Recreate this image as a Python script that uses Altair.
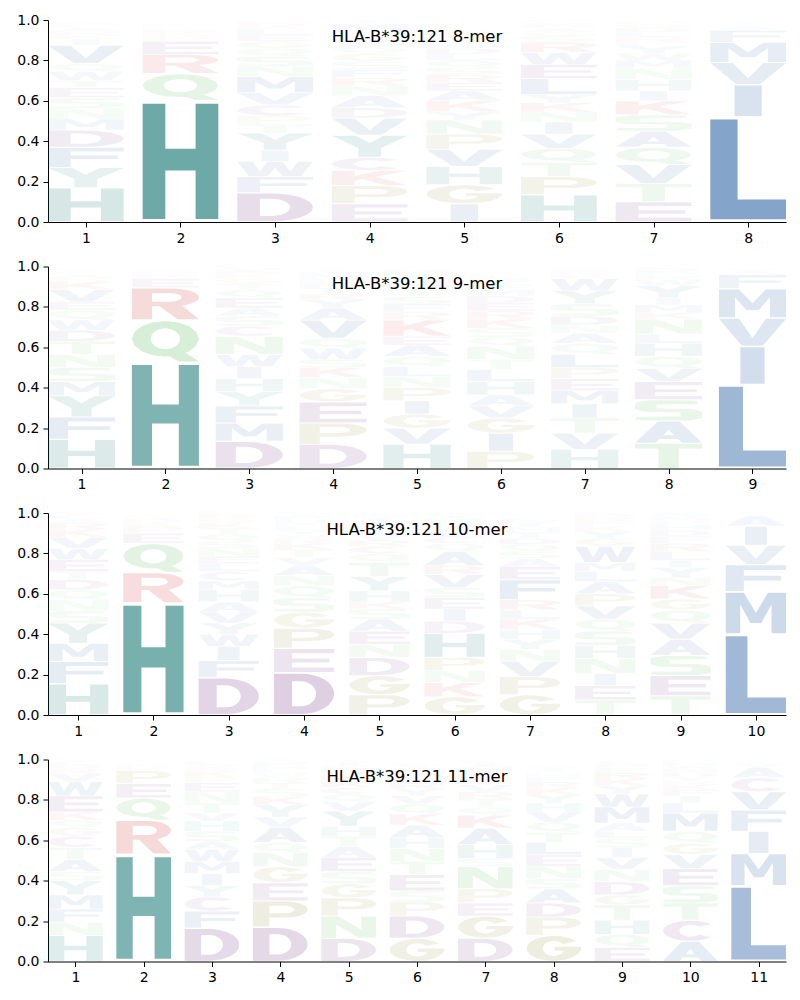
import math
import altair as alt
import pandas as pd

# ---------------- data: per position, letters from bottom to top with heights ----------------
MER8 = [
    "H .17 Y .10 F .10 D .085 M .055 N .055 S .05 E .05 T .035 W .045 Q .04 V .09 I .03 K .02 R .02 A .015 L .01 P .01 G .01 C .005",
    "H .60 Q .135 R .095 E .065 P .025 K .02 D .015 S .01 T .008 N .007 A .005 G .005 M .005 V .005",
    "D .145 F .08 W .075 I .055 Y .085 T .045 P .04 C .055 V .06 M .08 N .05 S .05 Q .04 G .035 E .03 L .03 K .02 R .015 H .005 A .005",
    "E .09 P .09 K .075 C .065 Y .11 V .085 D .05 A .06 N .05 R .04 F .04 S .04 G .04 Q .03 W .03 L .03 H .015 M .04 T .01 I .01",
    "I .09 G .095 H .09 V .085 P .075 N .07 Y .04 K .055 A .05 E .04 R .04 S .035 Q .035 L .03 D .03 F .025 T .025 M .02 W .015 C .01",
    "H .135 P .09 T .07 Q .07 V .07 I .06 N .05 K .045 Y .04 L .08 E .07 W .06 R .05 S .03 G .02 A .02 D .015 M .01 C .005 F .01",
    "E .10 T .09 V .095 Q .085 A .08 S .08 K .07 I .05 H .055 N .055 M .04 W .035 Y .035 F .02 R .025 L .025 D .02 G .02 P .015 C .005",
    "L .52 I .16 V .11 M .10 F .06 A .015 Y .01 W .008 T .007 C .005",
]
MER9 = [
    "H .145 F .11 Y .105 M .07 S .07 N .065 T .065 D .055 W .05 Q .05 E .04 V .06 K .04 R .02 A .015 L .01 I .01 G .01 P .005 C .005",
    "H .525 Q .21 R .16 E .045 P .015 K .01 D .01 S .008 N .007 T .005 G .005",
    "D .135 M .09 F .085 Y .07 H .065 I .06 W .06 N .09 C .05 S .05 A .04 E .05 Q .04 T .03 G .025 K .02 R .015 V .015 L .01 P .01",
    "D .12 P .105 E .105 G .065 N .055 K .05 S .04 W .055 Q .05 V .09 A .06 Y .04 R .03 T .03 F .025 L .02 M .02 H .015 I .01 C .01",
    "H .12 V .08 G .07 I .065 P .065 N .055 L .05 Q .05 A .055 E .045 K .08 R .04 F .04 S .035 T .035 D .03 W .025 Y .02 M .025 C .01",
    "P .085 I .09 G .075 V .06 A .055 H .065 L .06 T .05 N .065 Q .045 S .045 K .045 R .04 E .04 D .035 M .03 F .025 Y .02 W .015 C .01",
    "H .095 V .08 T .075 I .07 M .065 E .06 P .055 L .065 Q .055 A .05 N .04 D .045 S .06 Y .065 W .06 K .02 R .015 G .015 F .01 C .005",
    "T .125 A .11 S .105 E .09 V .065 Q .06 H .065 L .045 N .075 K .03 M .04 I .035 Y .06 W .03 R .02 F .02 D .015 G .01 P .01 C .005",
    "L .415 I .19 V .14 M .145 F .07 A .015 Y .01 W .008 T .005 C .002",
]
MER10 = [
    "H .155 F .11 M .09 Y .10 S .06 N .055 Q .05 D .05 T .04 E .06 W .055 V .055 K .04 R .03 A .02 L .015 I .01 G .01 P .005 C .005",
    "H .555 R .15 Q .145 E .05 P .035 K .02 D .015 S .01 N .008 T .007 G .005",
    "D .185 F .085 I .07 W .06 Y .055 V .055 A .05 H .06 M .045 C .045 L .04 E .035 N .04 S .035 Q .035 T .03 K .025 G .025 R .02 P .015",
    "D .21 E .12 P .10 G .08 S .07 Q .06 N .05 A .05 V .04 T .04 K .03 R .025 W .02 Y .02 L .02 M .02 H .015 F .015 I .01 C .01",
    "P .10 G .095 D .09 N .065 E .065 A .06 S .05 K .035 H .055 Y .07 T .07 Q .045 C .035 R .03 V .03 L .025 F .02 M .02 I .015 W .01",
    "G .09 K .07 N .06 P .065 H .12 D .06 I .06 E .055 S .05 V .065 R .045 A .07 Q .04 C .03 L .03 T .025 F .02 M .02 Y .015 W .01",
    "G .10 P .09 V .075 N .06 Y .05 H .05 K .05 L .045 R .05 F .10 E .065 A .04 S .035 Q .035 D .03 T .03 M .025 I .02 W .015 C .01",
    "T .075 E .07 I .06 N .075 H .065 S .07 Q .06 V .065 P .06 A .06 L .05 M .045 W .08 G .04 Y .035 K .025 F .025 R .02 D .015 C .01",
    "T .095 E .10 S .10 A .08 V .08 Q .065 G .055 K .065 N .04 Y .05 I .035 L .045 R .04 F .035 D .03 H .025 P .02 M .02 W .015 C .01",
    "L .40 M .21 F .135 V .095 I .095 A .05 Y .008 W .005 T .002",
]
MER11 = [
    "H .13 N .065 F .065 M .07 Y .07 S .045 A .06 T .06 C .055 G .045 Q .035 K .04 E .08 W .07 V .04 R .025 D .02 L .015 I .01 P .01",
    "H .53 R .17 Q .11 E .07 P .065 K .015 D .01 S .01 N .008 T .007 G .005",
    "D .165 F .085 C .07 Y .055 I .06 M .06 W .06 A .04 S .05 H .05 V .04 T .05 N .055 E .045 P .03 K .025 R .02 G .015 L .015 Q .01",
    "D .17 P .13 E .09 G .08 N .07 Q .05 A .075 V .05 Y .06 K .04 S .04 T .03 R .025 W .02 L .02 M .015 F .015 H .01 I .01 C .01",
    "D .115 N .11 P .09 G .07 S .06 E .07 A .055 T .05 H .05 Y .075 V .045 Q .04 C .03 K .03 R .025 L .02 M .02 F .015 I .015 W .01",
    "G .115 D .11 P .07 S .055 E .08 T .065 N .065 H .055 A .06 K .055 Q .05 V .04 Y .035 R .03 L .025 F .02 M .02 I .015 W .01 C .01",
    "D .115 G .11 E .065 P .07 N .11 S .04 H .07 A .08 K .065 Q .04 T .04 R .035 V .035 Y .03 L .025 F .02 M .015 I .015 W .01 C .01",
    "G .13 P .09 D .07 A .07 S .05 N .06 E .06 L .06 T .05 Q .05 V .05 H .045 Y .04 K .035 R .03 F .025 M .02 I .02 W .01 C .01",
    "E .07 Q .065 H .07 T .075 G .05 D .065 N .06 V .06 I .05 S .045 L .035 A .04 M .08 W .065 Y .04 K .035 R .03 F .025 P .02 C .015",
    "A .10 C .105 T .085 S .085 E .085 V .07 G .055 Q .06 M .09 L .05 I .035 F .03 K .025 R .02 Y .02 D .02 N .02 W .015 H .015 P .015",
    "L .375 M .16 I .11 F .105 V .09 C .07 A .05 Y .015 W .01 T .008 S .007",
]
PANELS = [("HLA-B*39:121 8-mer", MER8), ("HLA-B*39:121 9-mer", MER9),
          ("HLA-B*39:121 10-mer", MER10), ("HLA-B*39:121 11-mer", MER11)]

COLORS = {}
for g, c in [("HY", "#0b716c"), ("AVLIMFW", "#155199"), ("STNQ", "#41ae41"),
             ("DE", "#621f75"), ("C", "#7a2a8a"), ("KR", "#c81e1e"), ("PG", "#7a7a10")]:
    for ch in g:
        COLORS[ch] = c

# ---------------- style ----------------
PLOT_W, PLOT_H = 738, 202
GLYPH_W = 0.8
VPAD = 0.05
FONT = "DejaVu Sans"


def ell(cx, cy, rx, ry, a0, a1, n=16):
    return [(cx + rx * math.cos(math.radians(a0 + (a1 - a0) * i / n)),
             cy + ry * math.sin(math.radians(a0 + (a1 - a0) * i / n))) for i in range(n + 1)]


GLYPHS = {
    "A": ([[(0, 0), (.3, 0), (.36, .18), (.64, .18), (.7, 0), (1, 0), (.66, 1), (.34, 1)]],
          [[(.42, .35), (.58, .35), (.5, .64)]]),
    "C": ([ell(.5, .5, .5, .5, 40, 320) + ell(.5, .5, .2, .3, 320, 40)], []),
    "D": ([[(0, 0)] + ell(.45, .5, .55, .5, -90, 90) + [(0, 1)]],
          [[(.3, .19)] + ell(.45, .5, .25, .31, -90, 90) + [(.3, .81)]]),
    "E": ([[(0, 0), (1, 0), (1, .19), (.3, .19), (.3, .41), (.92, .41), (.92, .59), (.3, .59),
            (.3, .81), (1, .81), (1, 1), (0, 1)]], []),
    "F": ([[(0, 0), (.3, 0), (.3, .41), (.92, .41), (.92, .59), (.3, .59), (.3, .81), (1, .81),
            (1, 1), (0, 1)]], []),
    "G": ([ell(.5, .5, .5, .5, 35, 350) + [(1, .41), (1, .56), (.52, .56), (.52, .41)]
           + ell(.5, .5, .2, .3, 340, 35)], []),
    "H": ([[(0, 0), (.3, 0), (.3, .42), (.7, .42), (.7, 0), (1, 0), (1, 1), (.7, 1), (.7, .61),
            (.3, .61), (.3, 1), (0, 1)]], []),
    "I": ([[(.32, 0), (.68, 0), (.68, 1), (.32, 1)]], []),
    "K": ([[(0, 0), (.3, 0), (.3, .33), (.4, .44), (.72, 0), (1, 0), (.58, .6), (.98, 1), (.64, 1),
            (.3, .64), (.3, 1), (0, 1)]], []),
    "L": ([[(0, 0), (1, 0), (1, .2), (.36, .2), (.36, 1), (0, 1)]], []),
    "M": ([[(0, 0), (.24, 0), (.24, .72), (.41, .25), (.59, .25), (.76, .72), (.76, 0), (1, 0),
            (1, 1), (.7, 1), (.5, .5), (.3, 1), (0, 1)]], []),
    "N": ([[(0, 0), (.27, 0), (.27, .62), (.68, 0), (1, 0), (1, 1), (.73, 1), (.73, .38), (.32, 1),
            (0, 1)]], []),
    "P": ([[(0, 0), (.3, 0), (.3, .36)] + ell(.6, .68, .4, .32, -90, 90) + [(0, 1)]],
          [[(.3, .53)] + ell(.57, .68, .18, .15, -90, 90) + [(.3, .83)]]),
    "Q": ([ell(.5, .56, .5, .44, 0, 360)[:-1], [(.48, .2), (.7, 0), (1, 0), (.76, .26)]],
          [ell(.5, .56, .22, .26, 0, 360)[:-1]]),
    "R": ([[(0, 0), (.3, 0), (.3, .42)] + ell(.58, .71, .42, .29, -90, 90) + [(0, 1)],
           [(.4, .45), (.68, 0), (1, 0), (.72, .5)]],
          [[(.3, .57)] + ell(.56, .71, .18, .14, -90, 90) + [(.3, .85)]]),
    "S": ([[(0, .03), (.2, 0), (.8, 0), (1, .12), (1, .45), (.85, .57), (.32, .6), (.32, .8),
            (.93, .82), (.93, .97), (.75, 1), (.2, 1), (0, .88), (0, .55), (.15, .43), (.68, .4),
            (.68, .2), (.03, .18)]], []),
    "T": ([[(0, 1), (0, .81), (.35, .81), (.35, 0), (.65, 0), (.65, .81), (1, .81), (1, 1)]], []),
    "V": ([[(0, 1), (.3, 1), (.5, .28), (.7, 1), (1, 1), (.66, 0), (.34, 0)]], []),
    "W": ([[(0, 1), (.2, 1), (.3, .32), (.4, 1), (.6, 1), (.7, .32), (.8, 1), (1, 1), (.84, 0),
            (.6, 0), (.5, .6), (.4, 0), (.16, 0)]], []),
    "Y": ([[(0, 1), (.32, 1), (.5, .64), (.68, 1), (1, 1), (.65, .42), (.65, 0), (.35, 0),
            (.35, .42)]], []),
}


def area(poly):
    return sum(poly[i][0] * poly[(i + 1) % len(poly)][1] - poly[(i + 1) % len(poly)][0] * poly[i][1]
               for i in range(len(poly))) / 2


def glyph_path(letter, aspect):
    outers, holes = GLYPHS[letter]
    parts = []
    for poly, sign in [(p, 1) for p in outers] + [(p, -1) for p in holes]:
        if sign * area(poly) < 0:
            poly = poly[::-1]
        pts = [(2 * x - 1, -(y - 0.5) * 2 * aspect) for x, y in poly]
        parts.append("M " + " L ".join(f"{x:.3f} {y:.3f}" for x, y in pts) + " Z")
    return " ".join(parts)


def panel(title, columns):
    n = len(columns)
    glyph_px = GLYPH_W * PLOT_W / (n - 0.2)
    rows = []
    for pos, col in enumerate(columns, start=1):
        toks = col.split()
        y0 = 0.0
        for letter, h in zip(toks[0::2], toks[1::2]):
            h = float(h)
            hpx = h * (1 - VPAD) * PLOT_H
            rows.append({"pos": pos, "letter": letter, "yc": y0 + h / 2, "alpha": min(1.0, h),
                         "col": COLORS[letter], "path": glyph_path(letter, hpx / glyph_px)})
            y0 += h
    df = pd.DataFrame(rows)
    logo = alt.Chart(df).mark_point(filled=True, strokeWidth=0).encode(
        x=alt.X("pos:Q", scale=alt.Scale(domain=[0.6, n + 0.4], nice=False, zero=False),
                axis=alt.Axis(values=list(range(1, n + 1)), format="d", title=None, grid=False)),
        y=alt.Y("yc:Q", scale=alt.Scale(domain=[0, 1], nice=False),
                axis=alt.Axis(values=[0, 0.2, 0.4, 0.6, 0.8, 1.0], format=".1f", title=None,
                              grid=False)),
        shape=alt.Shape("path:N", scale=None),
        color=alt.Color("col:N", scale=None),
        opacity=alt.Opacity("alpha:Q", scale=None),
        size=alt.value(glyph_px ** 2),
    )
    ttl = alt.Chart(pd.DataFrame({"t": [title]})).mark_text(
        font=FONT, fontSize=16.5, color="black", baseline="middle", align="center"
    ).encode(text="t:N", x=alt.value(PLOT_W / 2), y=alt.value(17))
    return alt.layer(logo, ttl).properties(width=PLOT_W, height=PLOT_H)


chart = alt.vconcat(*[panel(t, c) for t, c in PANELS], spacing=14.5).configure_view(
    stroke=None
).configure_axis(
    domainColor="black", tickColor="black", labelColor="black", labelFont=FONT,
    labelFontSize=14, tickSize=5, labelPadding=4, domainWidth=1, tickWidth=1,
).properties(background="white", padding={"left": 8, "top": 5, "right": 5, "bottom": 5})

chart.save("out.html", embed_options={"renderer": "svg", "actions": False})
